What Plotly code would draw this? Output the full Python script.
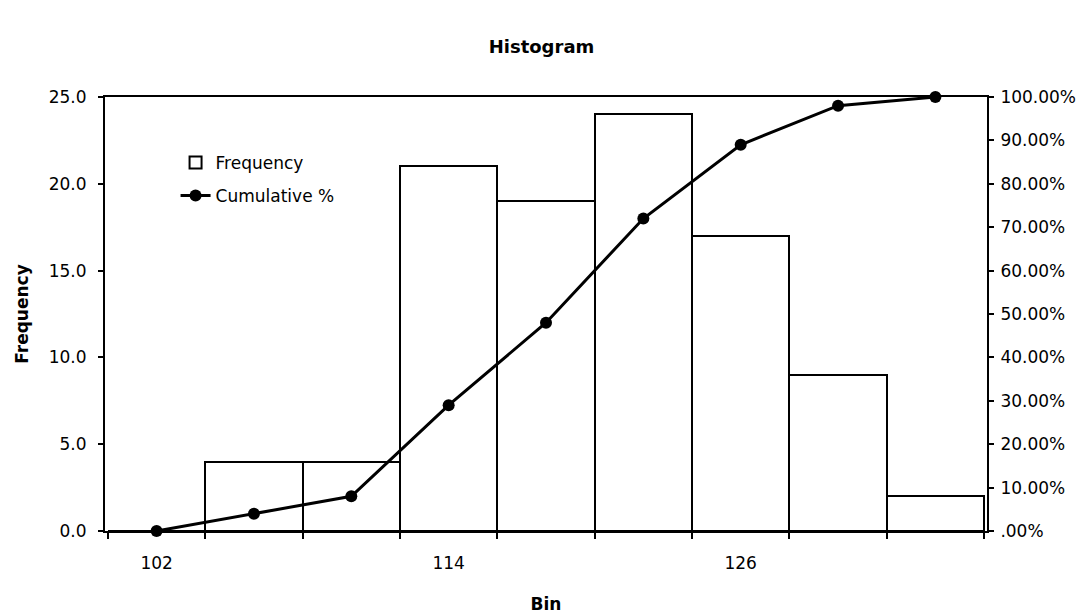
import plotly.graph_objects as go

bins = ["102", "106", "110", "114", "118", "122", "126", "130", "134"]
bin_labels = ["102", "", "", "114", "", "", "126", "", ""]
frequency = [0, 4, 4, 21, 19, 24, 17, 9, 2]
cumulative_pct = [0, 4, 8, 29, 48, 72, 89, 98, 100]
freq_ticks = [0, 5, 10, 15, 20, 25]
freq_ticktext = ["0.0", "5.0", "10.0", "15.0", "20.0", "25.0"]
pct_ticks = [0, 10, 20, 30, 40, 50, 60, 70, 80, 90, 100]
pct_ticktext = [".00%", "10.00%", "20.00%", "30.00%", "40.00%", "50.00%",
                "60.00%", "70.00%", "80.00%", "90.00%", "100.00%"]

FONT = "DejaVu Sans"

fig = go.Figure()
fig.add_trace(go.Bar(
    x=bins, y=frequency, name="Frequency",
    marker=dict(color="white", line=dict(color="black", width=2)),
    showlegend=True, legend="legend",
))
fig.add_trace(go.Scatter(
    x=bins, y=cumulative_pct, name="Cumulative %", yaxis="y2",
    mode="lines+markers",
    line=dict(color="black", width=3),
    marker=dict(color="black", size=12),
    cliponaxis=False,
    showlegend=True, legend="legend2",
))

fig.update_layout(
    width=1083, height=614,
    paper_bgcolor="white", plot_bgcolor="white",
    margin=dict(l=105, r=96, t=97, b=83),
    bargap=0,
    showlegend=True,
    font=dict(family=FONT, size=17, color="black"),
    title=dict(text="<b>Histogram</b>", x=0.5, xanchor="center",
               y=1 - 47 / 614, yanchor="middle", yref="container",
               font=dict(family=FONT, size=18, color="black")),
    xaxis=dict(
        type="category", categoryorder="array", categoryarray=bins,
        tickmode="array", tickvals=bins, ticktext=bin_labels,
        tickson="boundaries", ticks="outside", ticklen=6, tickwidth=1.5,
        tickcolor="black", ticklabelstandoff=16,
        showline=True, linecolor="black", linewidth=2, mirror=True,
        showgrid=False, zeroline=False, automargin=False,
        title=dict(text="<b>Bin</b>", font=dict(family=FONT, size=17), standoff=28),
    ),
    yaxis=dict(
        range=[0, 25], tickmode="array", tickvals=freq_ticks, ticktext=freq_ticktext,
        ticks="outside", ticklen=5, tickwidth=1.5, tickcolor="black",
        ticklabelstandoff=8,
        showline=True, linecolor="black", linewidth=2, mirror=True,
        showgrid=False, zeroline=False, automargin=False,
        title=dict(text="<b>Frequency</b>", font=dict(family=FONT, size=17), standoff=16),
    ),
    yaxis2=dict(
        range=[0, 100], overlaying="y", side="right",
        tickmode="array", tickvals=pct_ticks, ticktext=pct_ticktext,
        ticks="outside", ticklen=5, tickwidth=1.5, tickcolor="black",
        ticklabelstandoff=3,
        showline=True, linecolor="black", linewidth=2,
        showgrid=False, zeroline=False, automargin=False,
    ),
    legend=dict(x=0.08, y=0.848, xanchor="left", yanchor="middle",
                bgcolor="rgba(0,0,0,0)", font=dict(family=FONT, size=17)),
    legend2=dict(x=0.08, y=0.772, xanchor="left", yanchor="middle",
                 bgcolor="rgba(0,0,0,0)", font=dict(family=FONT, size=17)),
)

fig.write_html("out.html",
               config={"displayModeBar": False},
               post_script="document.body.style.margin='0';document.body.style.overflow='hidden';")
